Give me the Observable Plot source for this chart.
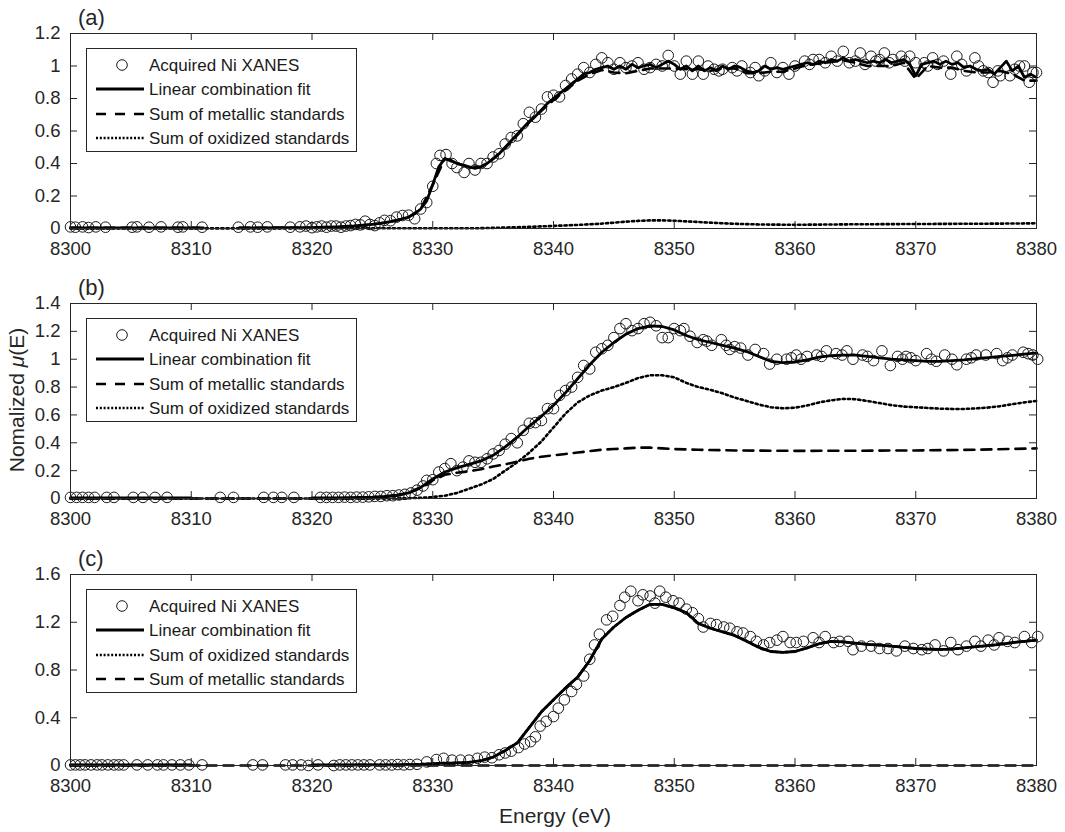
<!DOCTYPE html>
<html><head><meta charset="utf-8">
<script src="https://cdn.jsdelivr.net/npm/d3@7"></script>
<script src="https://cdn.jsdelivr.net/npm/@observablehq/plot@0.6"></script>
<style>
body{margin:0;background:#fff;}
#wrap{position:relative;width:1065px;height:832px;font-family:"Liberation Sans",Arial,sans-serif;}
#wrap svg{position:absolute;left:0;}
#overlay{top:0;pointer-events:none;}
</style></head><body><div id="wrap"></div>
<script>
// ---------- tick values ----------
const xTicks = [8300, 8310, 8320, 8330, 8340, 8350, 8360, 8370, 8380];
const yTicksA = [0, 0.2, 0.4, 0.6, 0.8, 1, 1.2];
const yTicksB = [0, 0.2, 0.4, 0.6, 0.8, 1, 1.2, 1.4];
const yTicksC = [0, 0.4, 0.8, 1.2, 1.6];
const panelLabels = ["(a)", "(b)", "(c)"];
const legendA = ["Acquired Ni XANES", "Linear combination fit", "Sum of metallic standards", "Sum of oxidized standards"];
const legendC = ["Acquired Ni XANES", "Linear combination fit", "Sum of oxidized standards", "Sum of metallic standards"];
const xLabel = "Energy (eV)";

// ---------- panel (a) ----------
const ptsA = [[8300,0.01],[8300.4,0.008],[8301,0.01],[8301.5,0.006],[8302.1,0.01],[8302.9,0.008],[8305.1,0.008],[8305.5,0.01],[8306.5,0.008],[8307.5,0.01],[8308.9,0.008],[8309.3,0.01],[8310.9,0.008],[8313.9,0.008],[8314.9,0.01],[8315.5,0.008],[8316.3,0.01],[8318.2,0.008],[8319,0.01],[8319.5,0.015],[8320,0.005],[8320.4,0.01],[8320.8,0.015],[8321.2,0.008],[8321.6,0.015],[8322,0.015],[8322.4,0.008],[8322.8,0.015],[8323.2,0.018],[8323.6,0.025],[8324,0.022],[8324.4,0.045],[8324.8,0.025],[8325.2,0.018],[8325.6,0.035],[8326,0.05],[8326.5,0.048],[8327,0.07],[8327.5,0.08],[8328,0.082],[8328.5,0.06],[8329,0.12],[8329.5,0.16],[8330,0.26],[8330.3,0.40],[8330.6,0.45],[8331.1,0.455],[8331.6,0.40],[8332,0.375],[8332.6,0.345],[8333,0.40],[8333.5,0.36],[8334,0.40],[8334.5,0.40],[8335,0.44],[8335.5,0.46],[8336,0.52],[8336.5,0.56],[8337,0.57],[8337.5,0.645],[8338,0.715],[8338.5,0.685],[8339,0.735],[8339.5,0.81],[8340,0.82],[8340.5,0.81],[8341,0.88],[8341.5,0.92],[8342,0.95],[8342.5,0.99],[8343,0.96],[8343.5,1.01],[8344,1.05],[8344.5,1.02],[8345,0.98],[8345.5,1.02],[8346,0.99],[8346.5,1.0],[8347,1.02],[8347.5,0.98],[8348,0.99],[8348.5,1.01],[8349,1.0],[8349.5,1.065],[8350,1.0],[8350.5,0.95],[8351,1.03],[8351.5,0.95],[8352,1.03],[8352.4,0.95],[8352.8,1.0],[8353.3,0.98],[8353.7,0.97],[8354,0.98],[8354.8,0.99],[8355.2,0.97],[8355.6,1.0],[8356.3,0.96],[8356.7,0.99],[8357,0.94],[8357.5,0.97],[8358,1.02],[8358.5,0.96],[8359,0.99],[8359.5,0.95],[8360,1.0],[8360.8,1.03],[8361.2,1.01],[8361.5,1.04],[8362,1.04],[8362.5,1.02],[8363,1.06],[8363.5,1.03],[8364,1.09],[8364.5,1.02],[8365,1.03],[8365.4,1.08],[8365.8,1.01],[8366.3,1.06],[8366.7,1.03],[8367,1.04],[8367.4,1.08],[8367.8,1.02],[8368.1,1.04],[8368.8,1.06],[8369.1,1.03],[8369.5,1.06],[8370,1.02],[8370.7,1.02],[8371,1.0],[8371.4,1.05],[8371.8,1.01],[8372.3,1.03],[8372.9,0.95],[8373.4,1.06],[8373.8,1.01],[8374.2,0.97],[8374.9,1.05],[8375.2,1.0],[8375.6,0.97],[8376,0.96],[8376.4,0.90],[8376.8,0.97],[8377,0.94],[8377.8,0.94],[8378.2,0.98],[8378.6,1.0],[8379,1.0],[8379.4,0.90],[8379.7,0.96],[8380,0.96]];
const fitA = [[8300,0.004],[8301,0.004],[8302,0.004],[8303,0.004],[8304,0.004],[8305,0.004],[8306,0.004],[8307,0.004],[8308,0.004],[8309,0.004],[8310,0.004],[8311,0.004],[8312,null],[8313,null],[8314,0.004],[8315,0.004],[8316,0.004],[8317,0.005],[8318,0.005],[8319,0.005],
[8319.5,0.005],[8320,0.006],[8320.5,0.007],[8321,0.008],[8321.5,0.009],[8322,0.01],[8322.5,0.012],[8323,0.014],[8323.5,0.016],[8324,0.019],[8324.5,0.022],[8325,0.026],[8325.5,0.03],[8326,0.036],[8326.5,0.043],[8327,0.05],[8327.5,0.06],[8328,0.07],[8328.5,0.09],[8329,0.12],[8329.5,0.17],[8330,0.27],[8330.5,0.38],[8331,0.43],[8331.5,0.42],[8332,0.40],[8332.5,0.39],[8333,0.38],[8333.5,0.37],[8334,0.38],[8334.5,0.40],[8335,0.43],[8335.5,0.46],[8336,0.5],[8336.5,0.54],[8337,0.58],[8337.5,0.62],[8338,0.66],[8338.5,0.69],[8339,0.73],[8339.5,0.77],[8340,0.8],[8340.5,0.83],[8341,0.86],[8341.5,0.89],[8342,0.92],[8342.5,0.95],[8343,0.96],[8343.5,0.98],[8344,0.99],[8344.5,1.0],[8345,0.98],[8345.5,1.0],[8346,0.98],[8346.5,1.01],[8347,0.99],[8347.5,1.0],[8348,1.01],[8348.5,0.99],[8349,1.01],[8349.5,1.03],[8350,1.01],[8350.5,0.98],[8351,1.0],[8351.5,0.97],[8352,1.0],[8352.5,0.97],[8353,0.99],[8353.5,0.97],[8354,1.0],[8354.5,0.98],[8355,1.0],[8355.5,0.99],[8356,0.97],[8356.5,0.96],[8357,0.97],[8357.5,1.0],[8358,0.98],[8358.5,0.99],[8359,0.98],[8359.5,0.99],[8360,1.0],[8360.5,1.01],[8361,1.02],[8361.5,1.01],[8362,1.03],[8362.5,1.02],[8363,1.04],[8363.5,1.03],[8364,1.05],[8364.5,1.03],[8365,1.04],[8365.5,1.03],[8366,1.02],[8366.5,1.03],[8367,1.02],[8367.5,1.04],[8368,1.02],[8368.5,1.03],[8369,1.04],[8369.5,1.01],[8370,0.94],[8370.5,1.01],[8371,1.02],[8371.5,1.03],[8372,1.01],[8372.5,1.03],[8373,1.01],[8373.5,1.02],[8374,0.99],[8374.5,1.0],[8375,0.98],[8375.5,0.97],[8376,0.98],[8376.5,0.95],[8377,0.99],[8377.5,1.03],[8378,0.97],[8378.5,1.0],[8379,0.93],[8379.5,0.95],[8380,0.93]];
const metA = [[8300,0.004],[8311,0.004],[8312,null],[8313,null],[8314,0.004],[8319,0.004],[8320,0.005],[8321,0.007],[8322,0.009],[8323,0.013],[8324,0.018],[8325,0.025],[8326,0.035],[8327,0.05],[8328,0.07],[8329,0.12],[8330,0.27],[8331,0.43],[8332,0.40],[8333,0.38],[8334,0.38],[8335,0.428],[8336,0.495],[8337,0.575],[8338,0.655],[8339,0.725],[8340,0.79],[8341,0.85],[8342,0.91],[8343,0.95],[8344,0.975],[8345,0.96],[8346,0.955],[8347,0.97],[8348,0.985],[8349,0.985],[8350,0.985],[8351,0.98],[8352,0.98],[8353,0.97],[8354,0.985],[8355,0.985],[8356,0.955],[8357,0.955],[8358,0.965],[8359,0.965],[8360,0.985],[8361,1.005],[8362,1.015],[8363,1.025],[8364,1.035],[8365,1.02],[8366,1.0],[8367,1.0],[8368,1.0],[8369,1.02],[8370,0.92],[8371,1.0],[8372,0.99],[8373,0.99],[8374,0.97],[8375,0.96],[8376,0.96],[8377,0.97],[8378,0.95],[8379,0.91],[8380,0.91]];
const oxA = [[8300,0],[8334,0.002],[8336,0.006],[8338,0.01],[8340,0.016],[8342,0.022],[8344,0.03],[8345,0.036],[8346,0.042],[8347,0.047],[8348,0.05],[8349,0.05],[8350,0.048],[8351,0.044],[8352,0.04],[8353,0.036],[8354,0.032],[8355,0.029],[8356,0.027],[8357,0.025],[8358,0.024],[8360,0.023],[8362,0.024],[8365,0.026],[8368,0.027],[8371,0.028],[8374,0.029],[8377,0.03],[8380,0.032]];

// ---------- panel (b) ----------
const ptsB = [[8300,0.008],[8300.5,0.008],[8301,0.008],[8301.5,0.008],[8302,0.008],[8303,0.008],[8303.6,0.008],[8305.2,0.008],[8306,0.008],[8307,0.008],[8308,0.008],[8312.4,0.008],[8313.5,0.008],[8316,0.008],[8316.8,0.008],[8317.5,0.008],[8318.5,0.008],[8320.7,0.008],[8321.2,0.008],[8321.7,0.008],[8322.2,0.008],[8322.7,0.01],[8323.2,0.008],[8323.7,0.01],[8324.2,0.01],[8324.7,0.012],[8325.2,0.015],[8325.7,0.015],[8326.2,0.02],[8326.7,0.02],[8327.2,0.025],[8327.7,0.03],[8328.2,0.04],[8328.7,0.06],[8329.2,0.09],[8329.5,0.13],[8330,0.135],[8330.5,0.19],[8331,0.215],[8331.5,0.25],[8332,0.2],[8332.5,0.225],[8333,0.27],[8333.5,0.26],[8334,0.26],[8334.5,0.285],[8335,0.32],[8335.5,0.345],[8336,0.39],[8336.5,0.43],[8337,0.40],[8337.5,0.49],[8338,0.54],[8338.5,0.545],[8339,0.56],[8339.5,0.645],[8340,0.645],[8340.5,0.74],[8341,0.775],[8341.5,0.80],[8342,0.87],[8342.5,0.955],[8343,0.93],[8343.5,1.05],[8344,1.075],[8344.5,1.10],[8345,1.155],[8345.5,1.22],[8346,1.255],[8346.5,1.205],[8347,1.22],[8347.5,1.255],[8348,1.265],[8348.5,1.24],[8349,1.155],[8349.5,1.155],[8350,1.22],[8350.5,1.205],[8350.8,1.22],[8351.3,1.165],[8351.9,1.12],[8352.4,1.14],[8352.7,1.13],[8353.1,1.10],[8353.9,1.14],[8354.3,1.10],[8354.6,1.07],[8355,1.09],[8355.5,1.08],[8356.1,1.03],[8356.7,1.07],[8357.4,1.04],[8357.9,0.965],[8358.5,1.0],[8359.3,1.0],[8359.7,1.01],[8360.1,1.03],[8360.5,1.0],[8361,1.02],[8361.8,1.03],[8362.2,1.02],[8362.6,1.06],[8363.4,1.04],[8363.9,1.03],[8364.3,1.06],[8364.8,1.0],[8365.6,1.03],[8366,1.02],[8366.5,0.99],[8367.2,1.06],[8367.9,0.955],[8368.5,1.02],[8368.9,1.0],[8369.2,1.02],[8369.6,1.01],[8370,0.99],[8370.9,1.04],[8371.3,1.0],[8371.7,0.985],[8372.4,1.03],[8373,1.0],[8373.4,0.96],[8374.2,1.0],[8374.6,1.01],[8375,1.03],[8375.8,1.03],[8376.7,1.04],[8377.2,0.99],[8377.6,1.01],[8378,1.03],[8378.9,1.05],[8379.3,1.04],[8379.7,1.03],[8380.1,1.0]];
const fitB = [[8300,0.004],[8310,0.004],[8311,null],[8320,0.004],[8321,0.004],[8322,0.005],[8323,0.006],[8324,0.008],[8325,0.01],[8326,0.015],[8327,0.025],[8328,0.04],[8329,0.08],[8330,0.14],[8331,0.19],[8332,0.22],[8333,0.245],[8334,0.27],[8335,0.31],[8336,0.37],[8337,0.44],[8338,0.52],[8339,0.59],[8340,0.67],[8341,0.76],[8342,0.86],[8343,0.96],[8344,1.05],[8345,1.12],[8346,1.18],[8347,1.22],[8348,1.24],[8349,1.235],[8350,1.21],[8351,1.17],[8352,1.14],[8353,1.12],[8354,1.10],[8355,1.08],[8356,1.055],[8357,1.02],[8358,0.985],[8359,0.975],[8360,0.98],[8361,0.995],[8362,1.015],[8363,1.025],[8364,1.03],[8365,1.03],[8366,1.02],[8367,1.01],[8368,1.0],[8369,0.995],[8370,0.99],[8371,0.985],[8372,0.985],[8373,0.99],[8374,0.995],[8375,1.005],[8376,1.012],[8377,1.02],[8378,1.028],[8379,1.036],[8380,1.045]];
const metB = [[8300,0],[8324,0],[8325,0.005],[8326,0.01],[8327,0.02],[8328,0.04],[8329,0.075],[8330,0.13],[8331,0.17],[8332,0.185],[8333,0.195],[8334,0.21],[8335,0.23],[8336,0.245],[8337,0.265],[8338,0.285],[8339,0.30],[8340,0.31],[8341,0.32],[8342,0.33],[8343,0.34],[8344,0.35],[8345,0.355],[8346,0.36],[8347,0.365],[8348,0.365],[8349,0.36],[8350,0.355],[8352,0.35],[8355,0.345],[8360,0.342],[8365,0.343],[8370,0.345],[8375,0.35],[8380,0.36]];
const oxB = [[8300,0],[8327,0],[8328,0.002],[8329,0.005],[8330,0.01],[8331,0.02],[8332,0.04],[8333,0.07],[8334,0.10],[8335,0.14],[8336,0.20],[8337,0.26],[8338,0.33],[8339,0.41],[8340,0.51],[8341,0.61],[8342,0.69],[8343,0.74],[8344,0.775],[8345,0.80],[8346,0.83],[8347,0.865],[8348,0.885],[8349,0.885],[8350,0.87],[8351,0.83],[8352,0.80],[8353,0.78],[8354,0.755],[8355,0.725],[8356,0.70],[8357,0.675],[8358,0.655],[8359,0.648],[8360,0.652],[8361,0.668],[8362,0.69],[8363,0.705],[8364,0.715],[8365,0.713],[8366,0.70],[8367,0.685],[8368,0.67],[8369,0.66],[8370,0.655],[8371,0.65],[8372,0.645],[8373,0.643],[8374,0.643],[8375,0.647],[8376,0.653],[8377,0.663],[8378,0.677],[8379,0.69],[8380,0.70]];

// ---------- panel (c) ----------
const ptsC = [[8300,0.005],[8300.4,0.005],[8300.8,0.005],[8301.2,0.005],[8301.7,0.005],[8302.2,0.005],[8302.6,0.005],[8303.1,0.005],[8303.6,0.005],[8304,0.005],[8304.4,0.005],[8305.5,0.005],[8306.4,0.005],[8307.2,0.005],[8307.7,0.005],[8308.4,0.005],[8309.1,0.005],[8309.8,0.005],[8310.9,0.005],[8315.1,0.005],[8315.9,0.005],[8317.8,0.005],[8318.4,0.005],[8319.1,0.005],[8319.7,0.0],[8320.5,0.005],[8321.8,0.0],[8322.3,0.005],[8322.8,0.005],[8323.3,0.005],[8323.8,0.005],[8324.3,0.005],[8324.8,0.005],[8325.6,0.005],[8326.1,0.005],[8326.6,0.005],[8327.1,0.008],[8327.6,0.005],[8328.1,0.008],[8328.7,0.01],[8329.5,0.03],[8330.3,0.05],[8330.9,0.06],[8331.6,0.045],[8332.3,0.045],[8333,0.045],[8333.7,0.06],[8334.3,0.07],[8334.9,0.065],[8335.5,0.09],[8336,0.105],[8336.5,0.12],[8337.1,0.15],[8337.6,0.18],[8338.1,0.20],[8338.5,0.24],[8338.9,0.33],[8339.4,0.37],[8340,0.41],[8340.4,0.48],[8340.9,0.55],[8341.5,0.62],[8341.9,0.68],[8342.5,0.75],[8343,0.89],[8343.4,1.01],[8343.8,1.10],[8344.4,1.22],[8344.9,1.25],[8345.5,1.34],[8345.9,1.41],[8346.4,1.46],[8347,1.38],[8347.4,1.43],[8348,1.42],[8348.4,1.36],[8348.8,1.46],[8349.3,1.41],[8349.9,1.38],[8350.4,1.36],[8351,1.31],[8351.5,1.28],[8352,1.23],[8352.4,1.16],[8353,1.19],[8353.5,1.18],[8354.1,1.16],[8354.6,1.15],[8355.2,1.12],[8355.7,1.11],[8356.3,1.08],[8356.8,1.04],[8357.4,1.01],[8357.9,1.03],[8358.5,1.05],[8359,1.08],[8359.6,1.03],[8360.1,1.03],[8360.7,1.04],[8361.5,1.07],[8362,1.03],[8362.5,1.08],[8363.2,1.03],[8363.7,1.04],[8364.4,1.04],[8364.8,0.97],[8365.5,1.0],[8366.3,1.0],[8367,0.98],[8367.7,0.98],[8368.4,0.96],[8369.1,1.0],[8369.8,0.98],[8370.5,0.97],[8371,0.98],[8371.6,1.01],[8372.3,0.96],[8372.9,1.03],[8373.5,0.97],[8374.2,1.0],[8374.9,1.04],[8375.4,1.0],[8376,1.05],[8376.5,1.01],[8376.9,1.07],[8377.6,1.04],[8378.2,1.03],[8379,1.08],[8379.6,1.03],[8380.1,1.08]];
const fitC = [[8300,0.004],[8310,0.004],[8311,null],[8320,0.004],[8321,0.004],[8324,0.005],[8327,0.006],[8328,0.008],[8329,0.01],[8330,0.015],[8331,0.02],[8332,0.022],[8333,0.027],[8334,0.04],[8335,0.07],[8336,0.125],[8337,0.19],[8338,0.32],[8339,0.45],[8340,0.55],[8341,0.65],[8342,0.74],[8343,0.88],[8344,1.06],[8345,1.16],[8346,1.24],[8347,1.30],[8348,1.35],[8349,1.35],[8350,1.32],[8351,1.28],[8352,1.19],[8353,1.15],[8354,1.12],[8355,1.09],[8356,1.04],[8357,0.99],[8358,0.955],[8359,0.948],[8360,0.955],[8361,0.985],[8362,1.02],[8363,1.04],[8364,1.035],[8365,1.025],[8366,1.015],[8367,1.008],[8368,1.0],[8369,0.99],[8370,0.98],[8371,0.975],[8372,0.972],[8373,0.975],[8374,0.985],[8375,0.995],[8376,1.005],[8377,1.015],[8378,1.03],[8379,1.04],[8380,1.05]];
const oxC = fitC; // oxidized sum coincides with the fit
const metC = [[8300,0],[8380,0]];

// ---------- drawing ----------
const W = 1065, ML = 70, MR = 29, INK = "#262626";
const IW = W - ML - MR;
const FONT = '"Liberation Sans", Arial, Helvetica, sans-serif';
const wrap = document.getElementById("wrap");
const X = d => d[0], Y = d => d[1];

function panel({pts, series, yDomain, yTicks, top, mt, ih, mb}) {
  const styles = {
    fit: {stroke: "#000", strokeWidth: 2.8},
    met: {stroke: "#000", strokeWidth: 2.6, strokeDasharray: "10,7"},
    ox:  {stroke: "#000", strokeWidth: 2.6, strokeDasharray: "2.2,3"}
  };
  const marks = [
    Plot.dot(pts, {x: X, y: Y, r: 5.3, stroke: "#1a1a1a", strokeWidth: 1, fill: "none"})
  ];
  for (const [key, data] of series) marks.push(Plot.line(data, {x: X, y: Y, ...styles[key]}));
  marks.push(
    Plot.ruleX(xTicks, {stroke: INK, strokeWidth: 1, insetTop: ih - 7}),
    Plot.ruleX(xTicks, {stroke: INK, strokeWidth: 1, insetBottom: ih - 7}),
    Plot.ruleY(yTicks, {stroke: INK, strokeWidth: 1, insetRight: IW - 7}),
    Plot.ruleY(yTicks, {stroke: INK, strokeWidth: 1, insetLeft: IW - 7}),
    Plot.frame({stroke: INK, strokeWidth: 1}),
    Plot.axisX({ticks: xTicks, tickSize: 0, tickPadding: 13, tickFormat: d => String(d), label: null, fill: INK}),
    Plot.axisY({ticks: yTicks, tickSize: 0, tickPadding: 10, tickFormat: d => String(d), label: null, fill: INK})
  );
  const svg = Plot.plot({
    width: W, height: mt + ih + mb,
    marginLeft: ML, marginRight: MR, marginTop: mt, marginBottom: mb,
    x: {domain: [8300, 8380]},
    y: {domain: yDomain},
    style: {fontFamily: FONT, fontSize: "18.5px", color: INK, background: "transparent", overflow: "visible"},
    marks
  });
  svg.style.top = top + "px";
  svg.style.position = "absolute";
  wrap.appendChild(svg);
}

const panels = [
  {pts: ptsA, series: [["fit", fitA], ["met", metA], ["ox", oxA]], yDomain: [0, 1.2], yTicks: yTicksA, top: 0, mt: 33, ih: 195, mb: 37, legend: legendA, kinds: ["o", "fit", "met", "ox"]},
  {pts: ptsB, series: [["fit", fitB], ["met", metB], ["ox", oxB]], yDomain: [0, 1.4], yTicks: yTicksB, top: 270, mt: 33, ih: 195, mb: 37, legend: legendA, kinds: ["o", "fit", "met", "ox"]},
  {pts: ptsC, series: [["fit", fitC], ["ox", oxC], ["met", metC]], yDomain: [0, 1.6], yTicks: yTicksC, top: 540, mt: 34, ih: 191, mb: 67, legend: legendC, kinds: ["o", "fit", "ox", "met"]}
];
panels.forEach(panel);

// ---------- overlay: legends, panel letters, axis titles ----------
const ov = d3.select(wrap).append("svg").attr("id", "overlay")
  .attr("width", W).attr("height", 832)
  .style("font-family", FONT).style("position", "absolute").style("top", "0px");

panels.forEach((p, i) => {
  const fy = p.top + p.mt;
  ov.append("text").attr("x", 78).attr("y", fy - 8)
    .attr("font-size", 22).attr("fill", INK).text(panelLabels[i]);
  const bx = ML + 16, by = fy + 15;
  const g = ov.append("g");
  g.append("rect").attr("x", bx + 0.5).attr("y", by + 0.5).attr("width", 270).attr("height", 103)
    .attr("fill", "#fff").attr("stroke", INK).attr("stroke-width", 1);
  const rows = [17, 41, 66, 90];
  p.kinds.forEach((k, j) => {
    const ry = by + rows[j];
    if (k === "o") {
      g.append("circle").attr("cx", 122).attr("cy", ry).attr("r", 5.3)
        .attr("fill", "none").attr("stroke", "#1a1a1a").attr("stroke-width", 1);
    } else {
      const l = g.append("line").attr("x1", 96).attr("x2", 144).attr("y1", ry).attr("y2", ry)
        .attr("stroke", "#000");
      if (k === "fit") l.attr("stroke-width", 2.8);
      if (k === "met") l.attr("stroke-width", 2.6).attr("stroke-dasharray", "10,9");
      if (k === "ox") l.attr("stroke-width", 2.6).attr("stroke-dasharray", "2,1.8");
    }
    g.append("text").attr("x", 149).attr("y", ry).attr("dy", "0.36em")
      .attr("font-size", 17).attr("fill", "#1a1a1a").text(p.legend[j]);
  });
});

// y-axis title (middle panel)
const yt = ov.append("text")
  .attr("transform", "translate(24,400) rotate(-90)")
  .attr("text-anchor", "middle").attr("font-size", 21).attr("fill", INK);
yt.append("tspan").text("Nomalized ");
yt.append("tspan").attr("font-style", "italic").text("\u03BC");
yt.append("tspan").text("(E)");

// x-axis title
ov.append("text").attr("x", 555).attr("y", 823).attr("text-anchor", "middle")
  .attr("font-size", 21).attr("fill", INK).text(xLabel);
</script>
</body></html>
